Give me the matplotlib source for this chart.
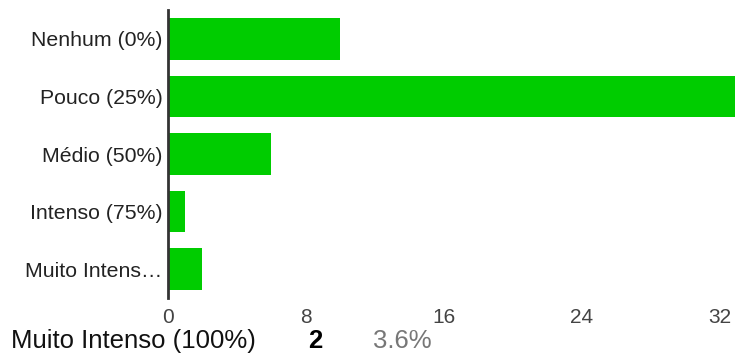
import matplotlib
matplotlib.use("Agg")
import matplotlib.pyplot as plt

# Survey answers: how much each option was chosen
categories = ["Nenhum (0%)", "Pouco (25%)", "Médio (50%)", "Intenso (75%)", "Muito Intens…"]
counts = [10, 37, 6, 1, 2]
x_ticks = [0, 8, 16, 24, 32]

# Detail row shown under the chart
detail_label = "Muito Intenso (100%)"
detail_index = 4

plt.rcParams["font.family"] = ["Liberation Sans", "DejaVu Sans"]

W, H = 735, 360
fig = plt.figure(figsize=(W / 100, H / 100), dpi=100)
ax = fig.add_axes([168 / W, 62 / H, 1 - 168 / W, (298 - 10) / H])

ypos = list(range(len(categories)))
ax.barh(ypos, counts, height=0.72, color="#00cc00", zorder=2)
ax.set_ylim(len(categories) - 0.5, -0.5)
ax.set_xlim(0, 32.87)

ax.set_yticks(ypos)
ax.set_yticklabels(categories)
ax.set_xticks(x_ticks)
ax.set_xticklabels([str(t) for t in x_ticks])

for side in ("top", "right", "bottom"):
    ax.spines[side].set_visible(False)
ax.spines["left"].set_color("#333333")
ax.spines["left"].set_linewidth(2.0)
ax.spines["left"].set_zorder(3)

ax.tick_params(axis="y", length=0, pad=4, labelsize=15.3, labelcolor="#222222")
ax.tick_params(axis="x", length=0, pad=7, labelsize=15, labelcolor="#444444")

total = sum(counts)
value = counts[detail_index]
pct = 100 * value / total
yrow = 1 - 341 / H
fig.text(11 / W, yrow, detail_label, fontsize=18.5, color="#111111", va="center", ha="left")
fig.text(315 / W, yrow, f"{value}", fontsize=18.5, color="#000000", fontweight="bold",
         va="center", ha="center")
fig.text(373 / W, yrow, f"{pct:.1f}%", fontsize=18.5, color="#777777", va="center", ha="left")

fig.savefig("out.png", dpi=100)
